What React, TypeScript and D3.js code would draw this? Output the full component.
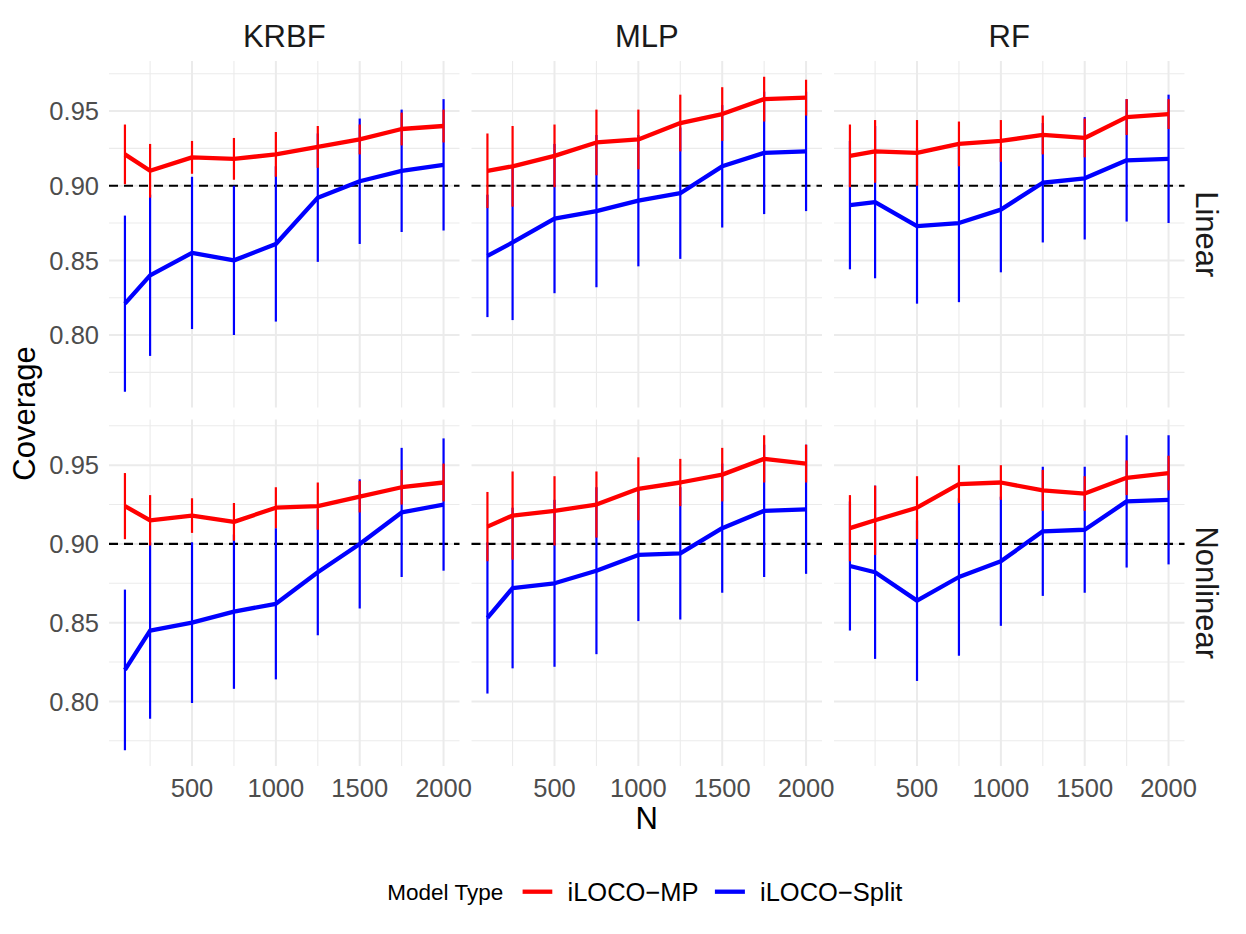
import React from 'react';
import * as d3 from 'd3';

// sample sizes on the x axis
const nValues = [100, 250, 500, 750, 1000, 1250, 1500, 1750, 2000];
const methods = ['KRBF', 'MLP', 'RF'];
const settings = ['Linear', 'Nonlinear'];
const modelTypes = ['iLOCO\u2212MP', 'iLOCO\u2212Split'];
const modelColors = ['#FF0000', '#0000FF'];
const xTicks = [500, 1000, 1500, 2000];
const yTicks = [0.8, 0.85, 0.9, 0.95];
const targetCoverage = 0.9;

// coverage means and error-bar half widths
const krbfLinearMpMean = [0.921, 0.910, 0.919, 0.918, 0.921, 0.926, 0.931, 0.938, 0.940];
const krbfLinearMpMargin = [0.020, 0.018, 0.011, 0.014, 0.015, 0.014, 0.010, 0.011, 0.011];
const krbfLinearSplitMean = [0.821, 0.840, 0.855, 0.850, 0.861, 0.892, 0.903, 0.910, 0.914];
const krbfLinearSplitMargin = [0.059, 0.054, 0.051, 0.050, 0.052, 0.043, 0.042, 0.041, 0.044];

const krbfNonlinearMpMean = [0.924, 0.915, 0.918, 0.914, 0.923, 0.924, 0.930, 0.936, 0.939];
const krbfNonlinearMpMargin = [0.021, 0.016, 0.011, 0.012, 0.013, 0.015, 0.010, 0.011, 0.012];
const krbfNonlinearSplitMean = [0.820, 0.845, 0.850, 0.857, 0.862, 0.882, 0.900, 0.920, 0.925];
const krbfNonlinearSplitMargin = [0.051, 0.056, 0.051, 0.049, 0.048, 0.040, 0.041, 0.041, 0.042];

const mlpLinearMpMean = [0.910, 0.913, 0.920, 0.929, 0.931, 0.942, 0.948, 0.958, 0.959];
const mlpLinearMpMargin = [0.025, 0.027, 0.021, 0.022, 0.020, 0.019, 0.018, 0.015, 0.012];
const mlpLinearSplitMean = [0.853, 0.862, 0.878, 0.883, 0.890, 0.895, 0.913, 0.922, 0.923];
const mlpLinearSplitMargin = [0.041, 0.052, 0.050, 0.051, 0.044, 0.044, 0.041, 0.041, 0.040];

const mlpNonlinearMpMean = [0.911, 0.918, 0.921, 0.925, 0.935, 0.939, 0.944, 0.954, 0.951];
const mlpNonlinearMpMargin = [0.022, 0.028, 0.022, 0.021, 0.020, 0.015, 0.017, 0.015, 0.012];
const mlpNonlinearSplitMean = [0.853, 0.872, 0.875, 0.883, 0.893, 0.894, 0.910, 0.921, 0.922];
const mlpNonlinearSplitMargin = [0.048, 0.051, 0.053, 0.053, 0.042, 0.042, 0.041, 0.042, 0.041];

const rfLinearMpMean = [0.920, 0.923, 0.922, 0.928, 0.930, 0.934, 0.932, 0.946, 0.948];
const rfLinearMpMargin = [0.021, 0.021, 0.022, 0.015, 0.014, 0.013, 0.013, 0.012, 0.010];
const rfLinearSplitMean = [0.887, 0.889, 0.873, 0.875, 0.884, 0.902, 0.905, 0.917, 0.918];
const rfLinearSplitMargin = [0.043, 0.051, 0.052, 0.053, 0.042, 0.040, 0.041, 0.041, 0.043];

const rfNonlinearMpMean = [0.910, 0.915, 0.923, 0.938, 0.939, 0.934, 0.932, 0.942, 0.945];
const rfNonlinearMpMargin = [0.021, 0.022, 0.020, 0.012, 0.011, 0.013, 0.011, 0.011, 0.011];
const rfNonlinearSplitMean = [0.886, 0.882, 0.864, 0.879, 0.889, 0.908, 0.909, 0.927, 0.928];
const rfNonlinearSplitMargin = [0.041, 0.055, 0.051, 0.050, 0.041, 0.041, 0.040, 0.042, 0.041];

// [setting][method] -> [mp, split] series
const panelData = [
  [
    [[krbfLinearMpMean, krbfLinearMpMargin], [krbfLinearSplitMean, krbfLinearSplitMargin]],
    [[mlpLinearMpMean, mlpLinearMpMargin], [mlpLinearSplitMean, mlpLinearSplitMargin]],
    [[rfLinearMpMean, rfLinearMpMargin], [rfLinearSplitMean, rfLinearSplitMargin]],
  ],
  [
    [[krbfNonlinearMpMean, krbfNonlinearMpMargin], [krbfNonlinearSplitMean, krbfNonlinearSplitMargin]],
    [[mlpNonlinearMpMean, mlpNonlinearMpMargin], [mlpNonlinearSplitMean, mlpNonlinearSplitMargin]],
    [[rfNonlinearMpMean, rfNonlinearMpMargin], [rfNonlinearSplitMean, rfNonlinearSplitMargin]],
  ],
];

const width = 1246;
const height = 934;
const panelLeft = 109;
const panelWidth = 350.5;
const panelGapX = 12;
const panelTop = 61;
const panelHeight = 346.5;
const panelGapY = 12;
const font = '"Liberation Sans", Arial, Helvetica, sans-serif';

// ggplot style 5% expansion
const expand = (lo: number, hi: number) => {
  const pad = (hi - lo) * 0.05;
  return [lo - pad, hi + pad];
};

const minorBreaks = (majors: number[], domain: number[]) => {
  const step = majors[1] - majors[0];
  const cands = majors.map((t) => t - step / 2).concat([majors[majors.length - 1] + step / 2]);
  return cands.filter((t) => t >= domain[0] && t <= domain[1]);
};

const Panel = ({ row, col, yDomain }: { row: number; col: number; yDomain: number[] }) => {
  const x0 = panelLeft + col * (panelWidth + panelGapX);
  const y0 = panelTop + row * (panelHeight + panelGapY);
  const xDomain = expand(d3.min(nValues)!, d3.max(nValues)!);
  const x = d3.scaleLinear().domain(xDomain).range([x0, x0 + panelWidth]);
  const y = d3.scaleLinear().domain(yDomain).range([y0 + panelHeight, y0]);
  const xMinor = minorBreaks(xTicks, xDomain);
  const yMinor = minorBreaks(yTicks, yDomain);
  const line = d3
    .line<number>()
    .x((_, i) => x(nValues[i]))
    .y((d) => y(d));
  const series = panelData[row][col];
  const order = [1, 0];

  return (
    <g>
      {yMinor.map((t) => (
        <line key={'ym' + t} x1={x0} x2={x0 + panelWidth} y1={y(t)} y2={y(t)} stroke="#EBEBEB" strokeWidth={1.1} />
      ))}
      {xMinor.map((t) => (
        <line key={'xm' + t} x1={x(t)} x2={x(t)} y1={y0} y2={y0 + panelHeight} stroke="#EBEBEB" strokeWidth={1.1} />
      ))}
      {yTicks.map((t) => (
        <line key={'y' + t} x1={x0} x2={x0 + panelWidth} y1={y(t)} y2={y(t)} stroke="#EBEBEB" strokeWidth={2} />
      ))}
      {xTicks.map((t) => (
        <line key={'x' + t} x1={x(t)} x2={x(t)} y1={y0} y2={y0 + panelHeight} stroke="#EBEBEB" strokeWidth={2} />
      ))}
      <line
        x1={x0}
        x2={x0 + panelWidth}
        y1={y(targetCoverage)}
        y2={y(targetCoverage)}
        stroke="#000"
        strokeWidth={2.2}
        strokeDasharray="9 6"
      />
      {order.map((s) =>
        series[s][0].map((m, i) => (
          <line
            key={'e' + s + i}
            x1={x(nValues[i])}
            x2={x(nValues[i])}
            y1={y(m - series[s][1][i])}
            y2={y(m + series[s][1][i])}
            stroke={modelColors[s]}
            strokeWidth={2.2}
          />
        ))
      )}
      {order.map((s) => (
        <path
          key={'l' + s}
          d={line(series[s][0]) || ''}
          fill="none"
          stroke={modelColors[s]}
          strokeWidth={4.3}
          strokeLinejoin="round"
        />
      ))}
      {row === 1 &&
        xTicks.map((t) => (
          <text key={'xl' + t} x={x(t)} y={y0 + panelHeight + 31} textAnchor="middle" fontSize={25.5} fill="#4D4D4D">
            {t}
          </text>
        ))}
      {col === 0 &&
        yTicks.map((t) => (
          <text key={'yl' + t} x={x0 - 10} y={y(t)} dy="0.36em" textAnchor="end" fontSize={25.5} fill="#4D4D4D">
            {t.toFixed(2)}
          </text>
        ))}
      {row === 0 && (
        <text x={x0 + panelWidth / 2} y={y0 - 13.7} textAnchor="middle" fontSize={31} fill="#1A1A1A">
          {methods[col]}
        </text>
      )}
      {col === 2 && (
        <text
          transform={`translate(${x0 + panelWidth + 11.5},${y0 + panelHeight / 2}) rotate(90)`}
          textAnchor="middle"
          fontSize={31}
          fill="#1A1A1A"
        >
          {settings[row]}
        </text>
      )}
    </g>
  );
};

export default function App() {
  // free y scale per row, shared across columns
  const rowDomains = settings.map((_, r) => {
    const lows: number[] = [targetCoverage];
    const highs: number[] = [targetCoverage];
    panelData[r].forEach((panel) =>
      panel.forEach(([mean, margin]) =>
        mean.forEach((m, i) => {
          lows.push(m - margin[i]);
          highs.push(m + margin[i]);
        })
      )
    );
    return expand(d3.min(lows)!, d3.max(highs)!);
  });

  const centerX = panelLeft + (3 * panelWidth + 2 * panelGapX) / 2;
  const centerY = panelTop + (2 * panelHeight + panelGapY) / 2;

  return (
    <svg
      width={width}
      height={height}
      style={{ position: 'absolute', left: 0, top: 0, background: '#fff' }}
      fontFamily={font}
    >
      <rect width={width} height={height} fill="#fff" />
      {settings.map((_, r) =>
        methods.map((__, c) => <Panel key={r + '-' + c} row={r} col={c} yDomain={rowDomains[r]} />)
      )}
      <text transform={`translate(35,${centerY}) rotate(-90)`} textAnchor="middle" fontSize={31} fill="#000">
        Coverage
      </text>
      <text x={centerX} y={829} textAnchor="middle" fontSize={31} fill="#000">
        N
      </text>
      <g>
        <text x={387.3} y={900} fontSize={22.5} fill="#000">
          Model Type
        </text>
        <line x1={522.6} x2={552.3} y1={891.7} y2={891.7} stroke={modelColors[0]} strokeWidth={4.3} />
        <text x={567.5} y={900.5} fontSize={25.5} fill="#000">
          {modelTypes[0]}
        </text>
        <line x1={714.9} x2={744.9} y1={891.7} y2={891.7} stroke={modelColors[1]} strokeWidth={4.3} />
        <text x={760} y={900.5} fontSize={25.5} fill="#000">
          {modelTypes[1]}
        </text>
      </g>
    </svg>
  );
}
